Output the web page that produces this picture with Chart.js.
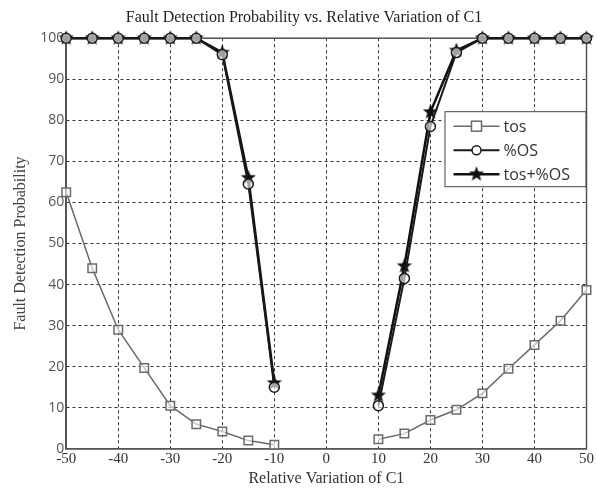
<!DOCTYPE html>
<html>
<head>
<meta charset="utf-8">
<script src="https://cdn.jsdelivr.net/npm/chart.js@4.4.1/dist/chart.umd.min.js"></script>
<style>
  html, body { margin: 0; padding: 0; background: #fff; }
  #wrap { width: 597px; height: 495px; }
</style>
</head>
<body>
<div id="wrap"><canvas id="c"></canvas></div>
<script>
// relative variation of C1 (%), gap between -10 and 10
const variation = [-50, -45, -40, -35, -30, -25, -20, -15, -10, -5, 0, 5, 10, 15, 20, 25, 30, 35, 40, 45, 50];
const tosValues = [62.5, 44, 29, 19.7, 10.5, 6, 4.2, 2, 1, null, null, null, 2.3, 3.7, 7, 9.5, 13.5, 19.5, 25.3, 31.2, 38.7];
const osValues = [100, 100, 100, 100, 100, 100, 96, 64.5, 15, null, null, null, 10.5, 41.5, 78.5, 96.5, 100, 100, 100, 100, 100];
const bothValues = [100, 100, 100, 100, 100, 100, 96.5, 66, 16, null, null, null, 13, 44.5, 82, 97, 100, 100, 100, 100, 100];
const seriesNames = ['tos', '%OS', 'tos+%OS'];
const xTicks = [-50, -40, -30, -20, -10, 0, 10, 20, 30, 40, 50];
const yTicks = [0, 10, 20, 30, 40, 50, 60, 70, 80, 90, 100];

const FONT = 'Liberation Serif';
const SANS = '"Open Sans", "Liberation Sans", sans-serif';

// filled pentagram for the tos+%OS marker
function makeStar(r) {
    const cv = document.createElement('canvas');
    const s = Math.ceil(r * 2 + 4);
    cv.width = s; cv.height = s;
    const g = cv.getContext('2d');
    g.beginPath();
    for (let i = 0; i < 10; i++) {
        const rad = i % 2 === 0 ? r : r * 0.42;
        const a = -Math.PI / 2 + i * Math.PI / 5;
        const px = s / 2 + rad * Math.cos(a), py = s / 2 + rad * Math.sin(a);
        if (i === 0) g.moveTo(px, py); else g.lineTo(px, py);
    }
    g.closePath();
    g.fillStyle = '#111';
    g.fill();
    return cv;
}
const starImg = makeStar(8);

function pts(vals) {
    return variation.map((x, i) => ({ x: x, y: vals[i] }));
}

// frame under the data, legend on top
const framePlugin = {
    id: 'frame',
    beforeDatasetsDraw(chart) {
        const { ctx, chartArea: a } = chart;
        ctx.save();
        ctx.strokeStyle = '#555';
        ctx.lineWidth = 1.5;
        ctx.strokeRect(a.left, a.top, a.right - a.left, a.bottom - a.top);
        ctx.restore();
    },
    afterDraw(chart) {
        const { ctx, chartArea: a } = chart;
        ctx.save();
        const bx = a.right - 142, by = a.top + 73, bw = 141, bh = 75;
        ctx.fillStyle = '#fff';
        ctx.fillRect(bx, by, bw, bh);
        ctx.strokeStyle = '#444';
        ctx.lineWidth = 1;
        ctx.strokeRect(bx + 0.5, by + 0.5, bw, bh);
        ctx.font = '16px ' + SANS;
        ctx.textBaseline = 'middle';
        chart.data.datasets.forEach((ds, i) => {
            const y = by + 15 + i * 24;
            const x0 = bx + 9, x1 = bx + 55, xm = (x0 + x1) / 2;
            ctx.strokeStyle = ds.borderColor;
            ctx.lineWidth = ds.borderWidth;
            ctx.beginPath(); ctx.moveTo(x0, y); ctx.lineTo(x1, y); ctx.stroke();
            if (ds.pointStyle === 'rect') {
                ctx.fillStyle = '#fff';
                ctx.lineWidth = 1.5;
                ctx.fillRect(xm - 5, y - 5, 10, 10);
                ctx.strokeRect(xm - 5, y - 5, 10, 10);
            } else if (ds.pointStyle === 'circle') {
                ctx.fillStyle = '#fff';
                ctx.lineWidth = 1.5;
                ctx.beginPath(); ctx.arc(xm, y, 4.5, 0, Math.PI * 2); ctx.fill(); ctx.stroke();
            } else {
                ctx.drawImage(starImg, xm - starImg.width / 2, y - starImg.height / 2);
            }
            ctx.fillStyle = '#333';
            ctx.fillText(ds.label, x1 + 4, y + 1);
        });
        ctx.restore();
    }
};

new Chart(document.getElementById('c'), {
    type: 'line',
    data: {
        datasets: [{
            label: seriesNames[0],
            data: pts(tosValues),
            borderColor: '#6a6a6a',
            borderWidth: 1.5,
            pointStyle: 'rect',
            pointRadius: 6,
            pointBorderWidth: 1.5,
            pointBackgroundColor: 'rgba(255,255,255,0.6)',
            pointBorderColor: '#6a6a6a',
            clip: false
        }, {
            label: seriesNames[1],
            data: pts(osValues),
            borderColor: '#1a1a1a',
            borderWidth: 2,
            pointStyle: 'circle',
            pointRadius: 5,
            pointBorderWidth: 1.5,
            pointBackgroundColor: 'rgba(255,255,255,0.6)',
            pointBorderColor: '#1a1a1a',
            clip: false
        }, {
            label: seriesNames[2],
            data: pts(bothValues),
            borderColor: '#111',
            borderWidth: 2.5,
            pointStyle: starImg,
            pointRadius: 8,
            clip: false
        }]
    },
    options: {
        responsive: true,
        maintainAspectRatio: false,
        animation: false,
        spanGaps: false,
        layout: { padding: { top: 8, right: 0, left: 11, bottom: 7 } },
        plugins: {
            legend: { display: false },
            tooltip: { enabled: false },
            title: {
                display: true,
                text: 'Fault Detection Probability vs. Relative Variation of C1',
                color: '#222',
                font: { family: FONT, size: 16, weight: 'normal' },
                padding: { top: 0, bottom: 11 }
            }
        },
        scales: {
            x: {
                type: 'linear',
                min: -50, max: 50,
                afterBuildTicks(axis) { axis.ticks = xTicks.map(v => ({ value: v })); },
                ticks: { color: '#333', font: { family: FONT, size: 15 }, padding: 1, maxRotation: 0 },
                grid: { color: '#333', lineWidth: 1, drawTicks: false },
                border: { display: true, color: '#555', width: 1.5, dash: [3, 3] },
                title: { display: true, text: 'Relative Variation of C1', color: '#333',
                         font: { family: FONT, size: 16 }, padding: { top: 0, bottom: 0 } }
            },
            y: {
                min: 0, max: 100,
                afterBuildTicks(axis) { axis.ticks = yTicks.map(v => ({ value: v })); },
                ticks: { color: '#555', font: { family: SANS, size: 14 }, padding: 2 },
                grid: { color: '#333', lineWidth: 1, drawTicks: false },
                border: { display: true, color: '#555', width: 1.5, dash: [3, 3] },
                title: { display: true, text: 'Fault Detection Probability', color: '#444',
                         font: { family: FONT, size: 16 }, padding: { top: 0, bottom: 8 } }
            }
        }
    },
    plugins: [framePlugin]
});
</script>
</body>
</html>
